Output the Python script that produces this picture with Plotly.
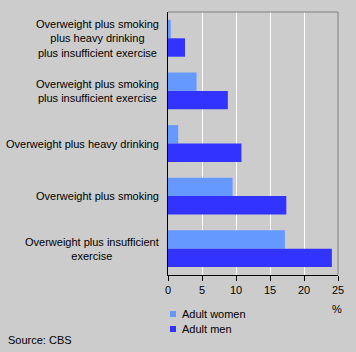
import plotly.graph_objects as go

categories = [
    "Overweight plus smoking<br>plus heavy drinking<br>plus insufficient exercise",
    "Overweight plus smoking<br>plus insufficient exercise",
    "Overweight plus heavy drinking",
    "Overweight plus smoking",
    "Overweight plus insufficient<br>exercise",
]
women = [0.4, 4.2, 1.5, 9.5, 17.2]
men = [2.5, 8.8, 10.8, 17.4, 24.1]
series_names = ["Adult women", "Adult men"]
colors = ["#6699FF", "#3333FF"]
x_ticks = [0, 5, 10, 15, 20, 25]

FONT = "Liberation Sans, Arial, sans-serif"

fig = go.Figure()
for name, vals, col in zip(series_names, [women, men], colors):
    fig.add_trace(go.Bar(
        y=categories, x=vals, name=name, orientation="h",
        marker=dict(color=col, line=dict(width=0)),
        showlegend=False,
    ))

fig.update_layout(
    width=356, height=352,
    margin=dict(l=168, r=13, t=12, b=77),
    paper_bgcolor="#CCCCCC", plot_bgcolor="#CCCCCC",
    barmode="group", bargap=0.3, bargroupgap=0,
    font=dict(family=FONT, size=11, color="#000000"),
    xaxis=dict(
        range=[0, 25], tickvals=x_ticks, ticks="outside", ticklen=5,
        tickcolor="#000000", showline=True, linecolor="#000000", linewidth=1,
        showgrid=True, gridcolor="#FFFFFF", gridwidth=1, zeroline=False,
        tickfont=dict(size=11, color="#000000"), fixedrange=True,
    ),
    yaxis=dict(
        autorange="reversed", showticklabels=False, ticks="",
        showline=True, linecolor="#000000", linewidth=1, showgrid=False,
        zeroline=False, fixedrange=True,
    ),
)

# gray top and right border
fig.add_shape(type="line", xref="paper", yref="paper", x0=0, x1=1, y0=1, y1=1,
              line=dict(color="#808080", width=1))
fig.add_shape(type="line", xref="paper", yref="paper", x0=1, x1=1, y0=0, y1=1,
              line=dict(color="#808080", width=1))

# category labels (centered multi-line text)
for cat in categories:
    fig.add_annotation(text=cat, xref="paper", yref="y", x=0, y=cat,
                       xanchor="right", yanchor="middle", align="center",
                       showarrow=False, xshift=-7,
                       font=dict(family=FONT, size=11, color="#000000"))

# unit
fig.add_annotation(text="%", xref="paper", yref="paper", x=1, y=0,
                   xanchor="center", yanchor="middle", yshift=-34, xshift=-1,
                   showarrow=False, font=dict(family=FONT, size=11, color="#000000"))

# manual legend
legend_y = [314, 329]
for name, col, py in zip(series_names, colors, legend_y):
    fig.add_annotation(text=name, xref="paper", yref="paper",
                       x=(180 - 168) / 175, y=0, yshift=-(py - 275),
                       xanchor="left", yanchor="middle", showarrow=False,
                       font=dict(family=FONT, size=11, color="#000000"))
    fig.add_annotation(text="", xref="paper", yref="paper",
                       x=(173.5 - 168) / 175, y=0, yshift=-(py - 275),
                       xanchor="center", yanchor="middle", showarrow=False,
                       width=6, height=6, bgcolor=col, borderpad=0,
                       borderwidth=0)

fig.add_annotation(text="Source: CBS", xref="paper", yref="paper",
                   x=0, y=0, xshift=-168 + 6, yshift=-(339.5 - 275),
                   xanchor="left", yanchor="middle", showarrow=False,
                   font=dict(family=FONT, size=11, color="#000000"))

fig.write_html("out.html")
